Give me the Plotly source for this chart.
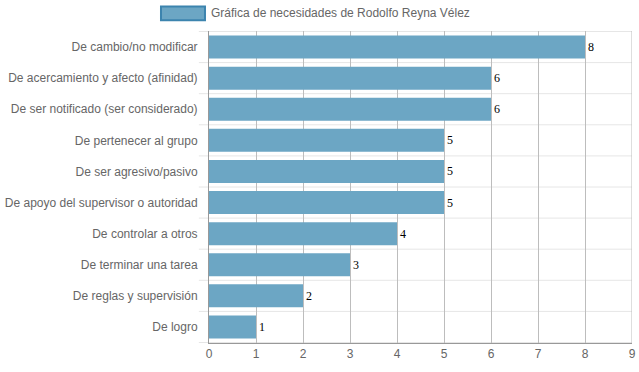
import plotly.graph_objects as go

categories = [
    "De cambio/no modificar",
    "De acercamiento y afecto (afinidad)",
    "De ser notificado (ser considerado)",
    "De pertenecer al grupo",
    "De ser agresivo/pasivo",
    "De apoyo del supervisor o autoridad",
    "De controlar a otros",
    "De terminar una tarea",
    "De reglas y supervisión",
    "De logro",
]
values = [8, 6, 6, 5, 5, 5, 4, 3, 2, 1]
series_name = "Gráfica de necesidades de Rodolfo Reyna Vélez"
x_ticks = list(range(0, 10))

BAR = "#6CA6C4"
BAR_EDGE = "#3C84AE"

fig = go.Figure()
fig.add_trace(go.Bar(
    x=values, y=categories, orientation="h", name=series_name,
    marker=dict(color=BAR, line=dict(width=0)),
    text=[str(v) for v in values], textposition="outside", cliponaxis=False,
    textfont=dict(family="Liberation Serif", size=12, color="#000"),
    showlegend=False,
))

# category separators (horizontal grid lines between bands, extending as ticks)
for i in range(len(categories) + 1):
    fig.add_shape(type="line", xref="paper", yref="y", x0=-0.024, x1=1,
                  y0=i - 0.5, y1=i - 0.5, line=dict(color="#e6e6e6", width=1), layer="below")
# right border grid line at the axis maximum
fig.add_shape(type="line", xref="x", yref="paper", x0=x_ticks[-1], x1=x_ticks[-1],
              y0=0, y1=1, line=dict(color="#bdbdbd", width=1), layer="below")

# manual legend (wide swatch like the reference)
fig.add_shape(type="rect", xref="paper", yref="paper",
              x0=-0.1135, x1=-0.0095, y0=1.0345, y1=1.0785,
              fillcolor=BAR, line=dict(color=BAR_EDGE, width=2))
fig.add_annotation(xref="paper", yref="paper", x=-0.0005, y=1.0565, xanchor="left",
                   yanchor="middle", text=series_name, showarrow=False,
                   font=dict(size=12, color="#666"))

fig.update_layout(
    width=639, height=372,
    margin=dict(l=209, r=7, t=31, b=29, autoexpand=False),
    paper_bgcolor="white", plot_bgcolor="white",
    font=dict(family="Liberation Sans, Arial", size=12, color="#666"),
    bargap=0.26,
    showlegend=False,
    xaxis=dict(range=[0, 9], tickvals=x_ticks, showgrid=True, gridcolor="#bdbdbd",
               gridwidth=1, zeroline=False, showline=True, linecolor="#999",
               ticks="", tickfont=dict(size=12, color="#666")),
    yaxis=dict(autorange="reversed", showgrid=False, showline=True, linecolor="#999",
               ticks="outside", ticklen=8, tickcolor="rgba(0,0,0,0)",
               tickfont=dict(size=12, color="#666")),
)

fig.write_html("out.html", config={"displayModeBar": False},
               post_script="document.body.style.margin='0';document.body.style.padding='0';")
